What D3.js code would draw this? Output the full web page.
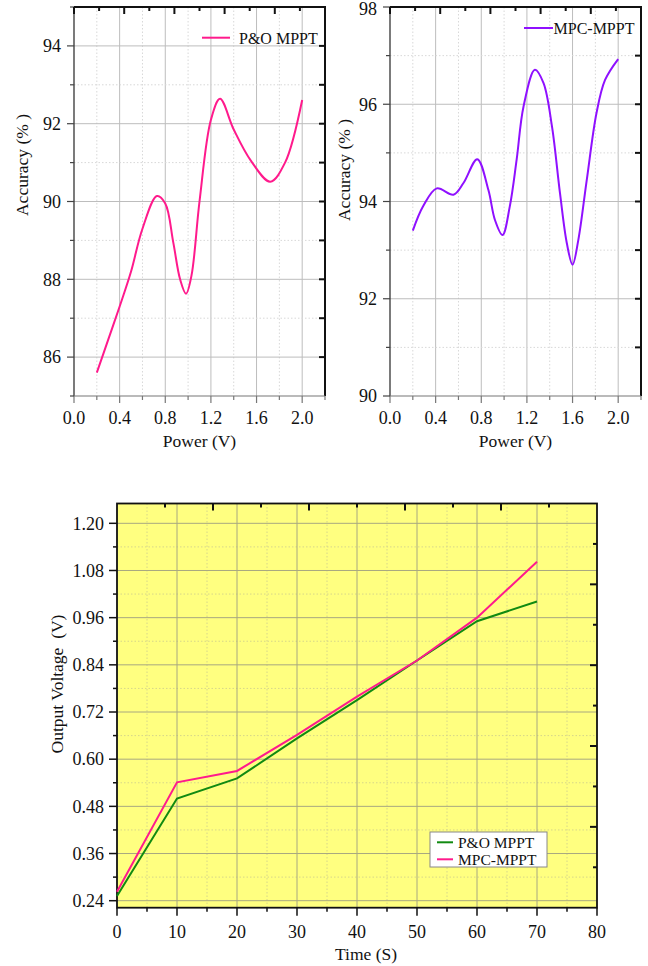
<!DOCTYPE html>
<html lang="en">
<head>
  <meta charset="UTF-8">
  <title>MPPT comparison</title>
  <style>
    body { margin: 0; background: #fff; }
    svg { display: block; font-family: "Liberation Serif", "Times New Roman", serif; }
    .grid-major { stroke: #bdbdbd; stroke-width: 1; }
    .grid-minor { stroke: #d8d8d8; stroke-width: 1; stroke-dasharray: 1.5,2; }
    .yel .grid-major { stroke: #a8a880; }
    .yel .grid-minor { stroke: #d6d68a; }
  </style>
</head>
<body>
  <svg width="648" height="966"></svg>
  <script src="https://d3js.org/d3.v7.min.js"></script>
  <script>
    // ---- data ----
    const poPower = [0.2, 0.3, 0.4, 0.5, 0.6, 0.727, 0.8, 0.87, 0.93, 0.982, 1.03, 1.1, 1.2, 1.28, 1.4, 1.55, 1.72, 1.85, 2.0];
    const poAcc   = [85.6, 86.45, 87.3, 88.2, 89.3, 90.14, 89.95, 88.95, 88.0, 87.63, 88.1, 90.0, 92.1, 92.64, 91.85, 91.05, 90.51, 91.0, 92.61];

    const mpcPower = [0.2, 0.29, 0.41, 0.556, 0.644, 0.765, 0.862, 0.92, 0.986, 1.05, 1.11, 1.17, 1.27, 1.345, 1.42, 1.49, 1.55, 1.6, 1.65, 1.725, 1.81, 1.885, 2.0];
    const mpcAcc   = [93.4, 93.9, 94.27, 94.14, 94.38, 94.87, 94.24, 93.62, 93.31, 93.9, 94.86, 95.95, 96.71, 96.44, 95.54, 94.17, 93.14, 92.7, 93.2, 94.45, 95.82, 96.5, 96.93];

    const time     = [0, 10, 20, 30, 40, 50, 60, 70];
    const poVolt   = [0.252, 0.500, 0.551, 0.653, 0.750, 0.851, 0.951, 1.001];
    const mpcVolt  = [0.263, 0.541, 0.570, 0.662, 0.759, 0.851, 0.960, 1.102];

    const powerTicks = [0.0, 0.4, 0.8, 1.2, 1.6, 2.0];
    const timeTicks  = [0, 10, 20, 30, 40, 50, 60, 70, 80];
    const voltTicks  = [0.24, 0.36, 0.48, 0.60, 0.72, 0.84, 0.96, 1.08, 1.20];

    const svg = d3.select("svg");

    // small helper: tick marks as plain lines
    function ticks(g, vals, fn, color, width) {
      g.selectAll(null).data(vals).enter().append("line")
        .attr("stroke", color).attr("stroke-width", width)
        .each(function(d) { const c = fn(d); d3.select(this).attr("x1", c[0]).attr("y1", c[1]).attr("x2", c[2]).attr("y2", c[3]); });
    }

    function topChart(o) {
      const g = svg.append("g");
      const x = d3.scaleLinear().domain([0, 2.2]).range([o.left, o.right]);
      const y = d3.scaleLinear().domain(o.yDomain).range([396, 7]);
      const xs = d3.range(0, 2.21, 0.2).map(v => +v.toFixed(1));
      const ys = d3.range(o.yDomain[0], o.yDomain[1] + 0.01, 1);
      const isMajX = v => Math.abs(v / 0.4 - Math.round(v / 0.4)) < 1e-6;
      const isMajY = v => o.yTicks.includes(v);

      // grid
      g.selectAll(null).data(xs.filter(v => v > 0 && v < 2.2)).enter().append("line")
        .attr("class", d => isMajX(d) ? "grid-major" : "grid-minor")
        .attr("x1", d => x(d)).attr("x2", d => x(d)).attr("y1", y.range()[1]).attr("y2", y.range()[0]);
      g.selectAll(null).data(ys.filter(v => v > o.yDomain[0] && v < o.yDomain[1])).enter().append("line")
        .attr("class", d => isMajY(d) ? "grid-major" : "grid-minor")
        .attr("y1", d => y(d)).attr("y2", d => y(d)).attr("x1", o.left).attr("x2", o.right);

      // frame: top & right black, left dark, bottom grey
      g.append("line").attr("x1", o.left).attr("x2", o.right + 1).attr("y1", 7).attr("y2", 7).attr("stroke", "#111").attr("stroke-width", 2);
      g.append("line").attr("x1", o.right).attr("x2", o.right).attr("y1", 7).attr("y2", 396).attr("stroke", "#111").attr("stroke-width", 2);
      g.append("line").attr("x1", o.left).attr("x2", o.left).attr("y1", 7).attr("y2", 396).attr("stroke", "#333").attr("stroke-width", 1.3);
      g.append("line").attr("x1", o.left).attr("x2", o.right).attr("y1", 396).attr("y2", 396).attr("stroke", "#777").attr("stroke-width", 1.2);

      // axis ticks
      ticks(g, xs, d => [x(d), 396, x(d), 396 + (isMajX(d) ? 7 : 4)], "#777", 1.2);
      ticks(g, ys, d => [o.left, y(d), o.left - (isMajY(d) ? 7 : 4), y(d)], "#444", 1.2);
      // top / right inward ticks
      ticks(g, d3.range(0, 11), d => { const px = o.left + d * (o.right - o.left) / 10; return [px, 7, px, 7 + (d % 2 ? 4 : 7)]; }, "#111", 2);
      ticks(g, ys.filter(v => v > o.yDomain[0] && v < o.yDomain[1]), d => [o.right, y(d), o.right - 6, y(d)], "#111", 2);

      // tick labels
      g.selectAll(null).data(powerTicks).enter().append("text")
        .attr("x", d => x(d)).attr("y", 424).attr("text-anchor", "middle")
        .attr("font-size", 18).attr("fill", "#111").text(d => d.toFixed(1));
      g.selectAll(null).data(o.yTicks).enter().append("text")
        .attr("x", o.left - 13).attr("y", d => Math.max(y(d), 9)).attr("dy", "0.35em").attr("text-anchor", "end")
        .attr("font-size", 18).attr("fill", "#111").text(d => d);

      // axis titles
      g.append("text").attr("x", (o.left + o.right) / 2).attr("y", 447).attr("text-anchor", "middle")
        .attr("font-size", 17.5).attr("fill", "#111").text("Power (V)");
      g.append("text").attr("transform", `translate(${o.yTitleX},${o.yTitleY}) rotate(-90)`)
        .attr("text-anchor", "middle").attr("font-size", 17.5).attr("fill", "#111").text("Accuracy (% )");

      // curve (smooth spline through the read points)
      const pts = o.xs.map((v, i) => [v, o.ys[i]]);
      g.append("path").datum(pts).attr("fill", "none").attr("stroke", o.color).attr("stroke-width", 2)
        .attr("d", d3.line().x(d => x(d[0])).y(d => y(d[1])).curve(d3.curveCatmullRom.alpha(0.5)));

      // legend
      g.append("line").attr("x1", o.leg[0]).attr("x2", o.leg[1]).attr("y1", o.leg[2]).attr("y2", o.leg[2])
        .attr("stroke", o.color).attr("stroke-width", 2);
      g.append("text").attr("x", o.leg[3]).attr("y", o.leg[4]).attr("font-size", 16).attr("fill", "#111").text(o.name);
    }

    topChart({ left: 74, right: 325, yDomain: [85, 95], yTicks: [86, 88, 90, 92, 94],
      xs: poPower, ys: poAcc, color: "#ff1a8c", name: "P&O MPPT",
      yTitleX: 28, yTitleY: 165, leg: [202, 230, 37.7, 239, 43.5] });
    topChart({ left: 390, right: 641, yDomain: [90, 98], yTicks: [90, 92, 94, 96, 98],
      xs: mpcPower, ys: mpcAcc, color: "#8f10ff", name: "MPC-MPPT",
      yTitleX: 350, yTitleY: 170, leg: [524, 553, 28, 553.5, 33.5] });

    // ---- bottom chart ----
    const bl = 117, br = 597, bt = 503.5, bb = 907.7;
    const bx = d3.scaleLinear().domain([0, 80]).range([bl, br]);
    const by = d3.scaleLinear().domain([0.2222, 1.2504]).range([bb, bt]);
    const gb = svg.append("g").attr("class", "yel");
    gb.append("rect").attr("x", bl).attr("y", bt).attr("width", br - bl).attr("height", bb - bt).attr("fill", "#ffff80");

    const tMinor = d3.range(5, 80, 10);
    const vMinor = d3.range(0, 9).map(i => 0.30 + i * 0.12).filter(v => v < 1.25);
    gb.selectAll(null).data(tMinor).enter().append("line").attr("class", "grid-minor")
      .attr("x1", d => bx(d)).attr("x2", d => bx(d)).attr("y1", bt).attr("y2", bb);
    gb.selectAll(null).data(vMinor).enter().append("line").attr("class", "grid-minor")
      .attr("y1", d => by(d)).attr("y2", d => by(d)).attr("x1", bl).attr("x2", br);
    gb.selectAll(null).data(timeTicks.slice(1, -1)).enter().append("line").attr("class", "grid-major")
      .attr("x1", d => bx(d)).attr("x2", d => bx(d)).attr("y1", bt).attr("y2", bb);
    gb.selectAll(null).data(voltTicks).enter().append("line").attr("class", "grid-major")
      .attr("y1", d => by(d)).attr("y2", d => by(d)).attr("x1", bl).attr("x2", br);

    gb.append("rect").attr("x", bl).attr("y", bt).attr("width", br - bl).attr("height", bb - bt)
      .attr("fill", "none").attr("stroke", "#111").attr("stroke-width", 1.8);

    ticks(gb, timeTicks, d => [bx(d), bb, bx(d), bb + 8], "#111", 1.5);
    ticks(gb, tMinor, d => [bx(d), bb, bx(d), bb + 4], "#111", 1.5);
    ticks(gb, voltTicks, d => [bl, by(d), bl - 8, by(d)], "#111", 1.5);
    ticks(gb, vMinor, d => [bl, by(d), bl - 4, by(d)], "#111", 1.5);
    ticks(gb, d3.range(1, 10), d => { const px = bl + d * (br - bl) / 10; return [px, bt, px, bt + (d % 2 ? 4 : 7)]; }, "#111", 2);
    ticks(gb, d3.range(1, 10), d => { const py = bt + d * (bb - bt) / 10; return [br, py, br - (d % 2 ? 4 : 7), py]; }, "#111", 2);

    gb.selectAll(null).data(timeTicks).enter().append("text")
      .attr("x", d => bx(d)).attr("y", 938).attr("text-anchor", "middle")
      .attr("font-size", 18).attr("fill", "#111").text(d => d);
    gb.selectAll(null).data(voltTicks).enter().append("text")
      .attr("x", bl - 13).attr("y", d => by(d)).attr("dy", "0.35em").attr("text-anchor", "end")
      .attr("font-size", 18).attr("fill", "#111").text(d => d.toFixed(2));

    gb.append("text").attr("x", 366).attr("y", 960).attr("text-anchor", "middle")
      .attr("font-size", 17.5).attr("fill", "#111").text("Time (S)");
    gb.append("text").attr("transform", "translate(63,684) rotate(-90)").attr("text-anchor", "middle")
      .attr("font-size", 17.5).attr("fill", "#111").attr("xml:space", "preserve").style("white-space", "pre")
      .text("Output Voltage  (V)");

    const vline = d3.line().x(d => bx(d[0])).y(d => by(d[1]));
    gb.append("path").datum(time.map((t, i) => [t, poVolt[i]])).attr("fill", "none")
      .attr("stroke", "#118a11").attr("stroke-width", 2).attr("d", vline);
    gb.append("path").datum(time.map((t, i) => [t, mpcVolt[i]])).attr("fill", "none")
      .attr("stroke", "#ff1a8c").attr("stroke-width", 2).attr("d", vline);

    // legend
    const lg = gb.append("g");
    lg.append("rect").attr("x", 430).attr("y", 832).attr("width", 117).attr("height", 35)
      .attr("fill", "#fff").attr("stroke", "#888").attr("stroke-width", 1);
    [["P&O MPPT", "#118a11", 842.3], ["MPC-MPPT", "#ff1a8c", 859.3]].forEach(([name, c, yy]) => {
      lg.append("line").attr("x1", 437).attr("x2", 453).attr("y1", yy).attr("y2", yy).attr("stroke", c).attr("stroke-width", 2);
      lg.append("text").attr("x", 458).attr("y", yy + 5.5).attr("font-size", 15.5).attr("fill", "#111").text(name);
    });
  </script>
</body>
</html>
